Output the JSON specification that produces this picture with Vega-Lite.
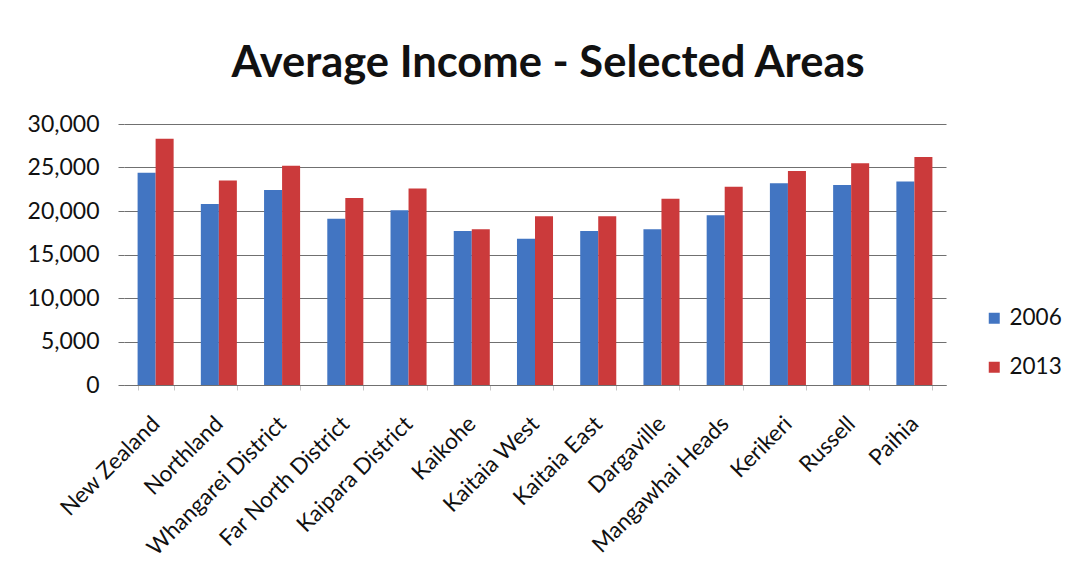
{
  "$schema": "https://vega.github.io/schema/vega-lite/v6.json",
  "autosize": "none",
  "width": 822,
  "height": 261,
  "padding": {"left": 124, "top": 124, "right": 130, "bottom": 199},
  "background": "white",
  "title": {
    "text": "Average Income - Selected Areas",
    "font": "Lato",
    "fontSize": 43.5,
    "fontWeight": "bold",
    "color": "#111111",
    "anchor": "middle",
    "offset": 27,
    "dx": 13
  },
  "data": {
    "values": [
      {"area": "New Zealand", "year": "2006", "income": 24400},
      {"area": "New Zealand", "year": "2013", "income": 28300},
      {"area": "Northland", "year": "2006", "income": 20800},
      {"area": "Northland", "year": "2013", "income": 23500},
      {"area": "Whangarei District", "year": "2006", "income": 22400},
      {"area": "Whangarei District", "year": "2013", "income": 25200},
      {"area": "Far North District", "year": "2006", "income": 19100},
      {"area": "Far North District", "year": "2013", "income": 21500},
      {"area": "Kaipara District", "year": "2006", "income": 20100},
      {"area": "Kaipara District", "year": "2013", "income": 22600},
      {"area": "Kaikohe", "year": "2006", "income": 17700},
      {"area": "Kaikohe", "year": "2013", "income": 17900},
      {"area": "Kaitaia West", "year": "2006", "income": 16800},
      {"area": "Kaitaia West", "year": "2013", "income": 19400},
      {"area": "Kaitaia East", "year": "2006", "income": 17700},
      {"area": "Kaitaia East", "year": "2013", "income": 19400},
      {"area": "Dargaville", "year": "2006", "income": 17900},
      {"area": "Dargaville", "year": "2013", "income": 21400},
      {"area": "Mangawhai Heads", "year": "2006", "income": 19500},
      {"area": "Mangawhai Heads", "year": "2013", "income": 22800},
      {"area": "Kerikeri", "year": "2006", "income": 23200},
      {"area": "Kerikeri", "year": "2013", "income": 24600},
      {"area": "Russell", "year": "2006", "income": 23000},
      {"area": "Russell", "year": "2013", "income": 25500},
      {"area": "Paihia", "year": "2006", "income": 23400},
      {"area": "Paihia", "year": "2013", "income": 26200}
    ]
  },
  "mark": {"type": "bar"},
  "encoding": {
    "x": {
      "field": "area",
      "type": "nominal",
      "sort": null,
      "scale": {"paddingInner": 0.43, "paddingOuter": 0.215},
      "axis": {
        "title": null,
        "labelAngle": -45,
        "labelAlign": "right",
        "labelBaseline": "middle",
        "labelFont": "Lato",
        "labelFontSize": 22.5,
        "labelColor": "#111111",
        "labelPadding": 30,
        "labelLimit": 300,
        "domainColor": "#707070",
        "domainWidth": 1.2,
        "tickBand": "extent",
        "tickColor": "#c8c8c8",
        "tickSize": 5,
        "grid": false
      }
    },
    "xOffset": {"field": "year", "type": "nominal", "scale": {"paddingInner": 0, "paddingOuter": 0}},
    "y": {
      "field": "income",
      "type": "quantitative",
      "scale": {"domain": [0, 30000]},
      "axis": {
        "title": null,
        "values": [0, 5000, 10000, 15000, 20000, 25000, 30000],
        "format": ",d",
        "labelFont": "Lato",
        "labelFontSize": 23,
        "labelColor": "#111111",
        "labelPadding": 19,
        "domain": false,
        "tickColor": "#707070",
        "tickSize": 6,
        "grid": true,
        "gridColor": "#707070",
        "gridWidth": 1.2
      }
    },
    "color": {
      "field": "year",
      "type": "nominal",
      "scale": {"domain": ["2006", "2013"], "range": ["#4275C2", "#CB3A3B"]},
      "legend": {
        "title": null,
        "orient": "none",
        "legendX": 859,
        "legendY": 183,
        "padding": 0,
        "symbolType": "square",
        "symbolSize": 121,
        "symbolStrokeWidth": 0,
        "labelFont": "Lato",
        "labelFontSize": 22.5,
        "labelColor": "#111111",
        "labelOffset": 4,
        "rowPadding": 26
      }
    }
  },
  "config": {
    "view": {"stroke": null}
  }
}
